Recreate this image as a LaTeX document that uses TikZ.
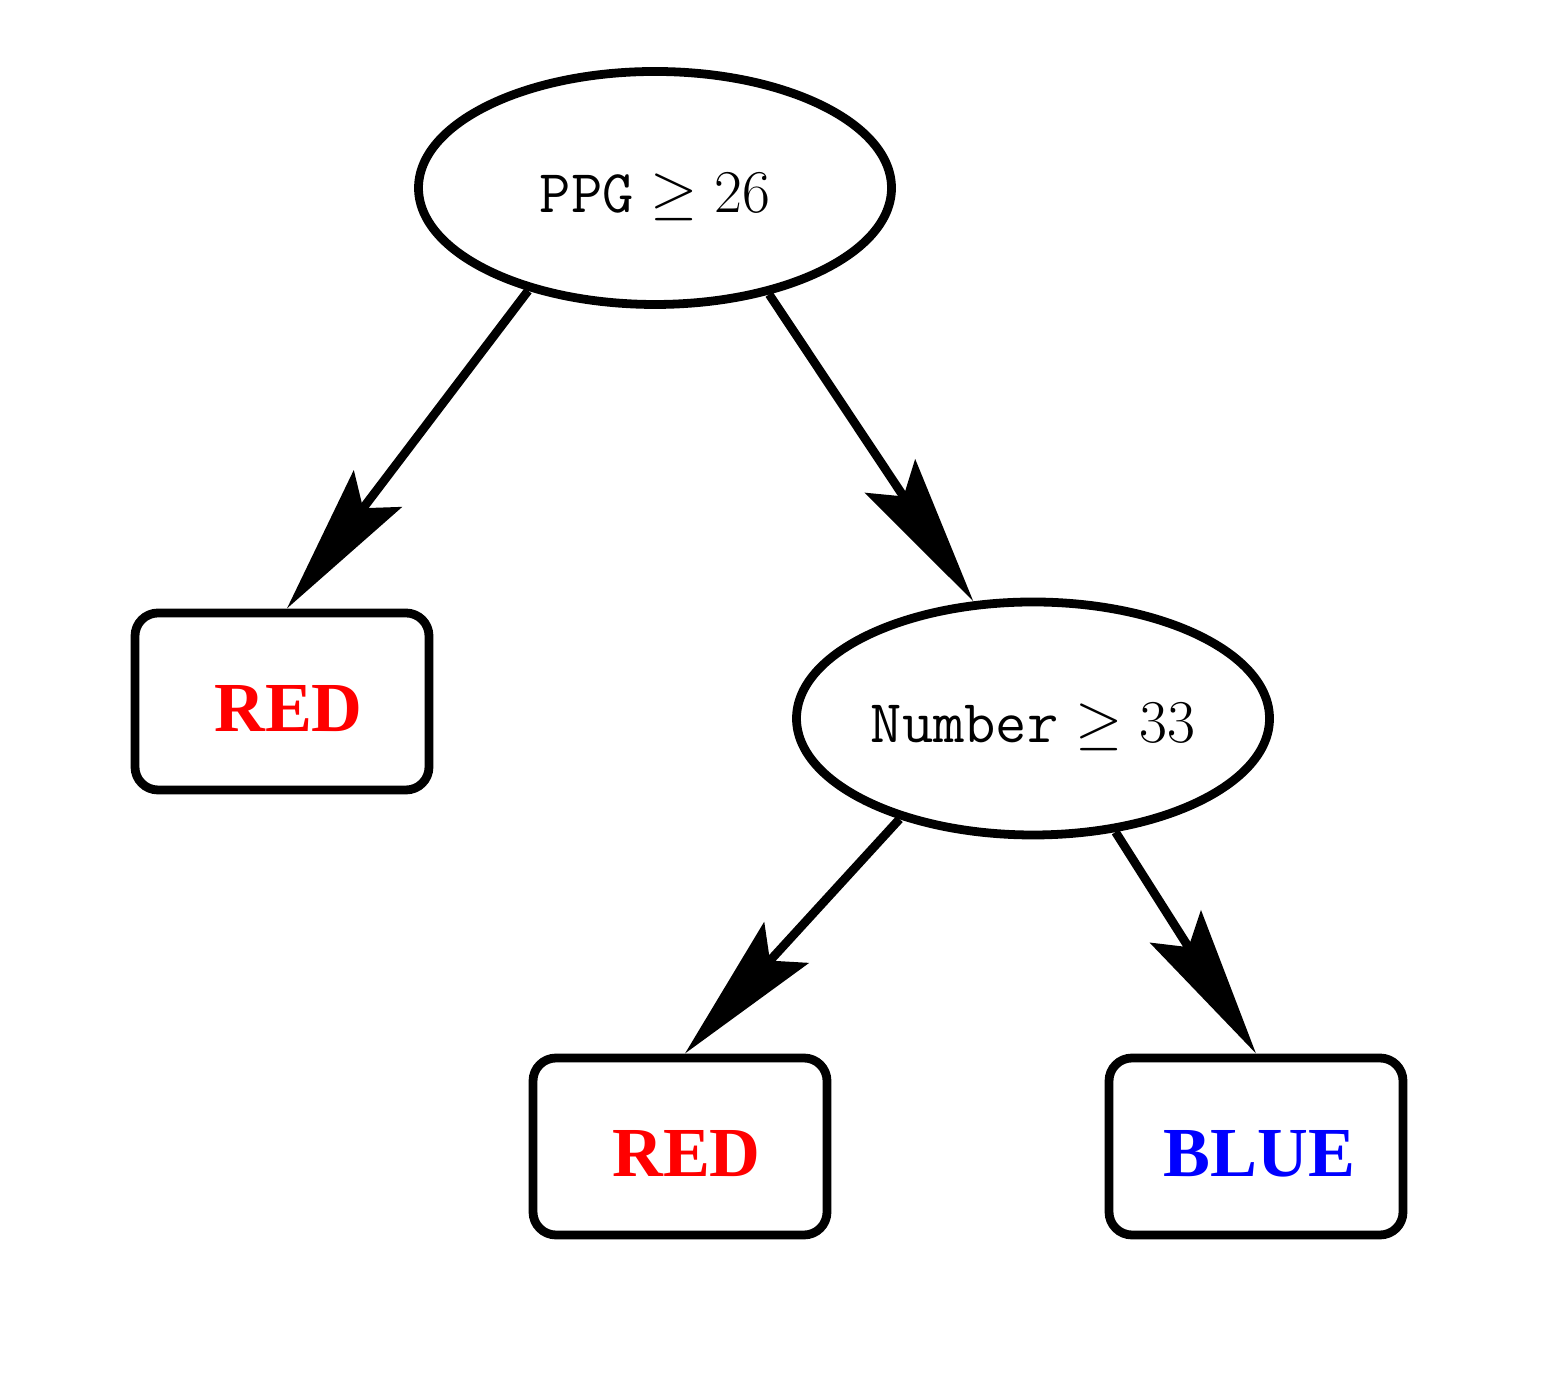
\documentclass[tikz,border=0pt]{standalone}
\usepackage{fontspec}
\newfontfamily\leaffont{Liberation Serif}
\usetikzlibrary{arrows.meta,
                shapes.geometric}

\begin{document}
\begin{tikzpicture}[line width=2.5pt,
        test/.style={ellipse, draw, inner sep=0pt, minimum width=4.73cm, minimum height=2.33cm,
                font=\fontsize{17.28}{21}\selectfont, text height=0.49cm, text depth=0cm},
        leaf/.style={rectangle, draw, rounded corners=0.23cm, inner sep=0pt, minimum width=2.94cm,
                minimum height=1.77cm, font=\leaffont\bfseries\fontsize{20}{24}\selectfont,
                text height=0.6cm, text depth=0cm},
        branch/.style={-{Stealth[length=15mm, width=6mm, inset=2.4mm]}}]
        \useasboundingbox (0,0) rectangle (15.54,13.75);
        \node (ppg) at (6.55,11.87) [test] {$\mathtt{PPG} \geq 26$};
        \node (num) at (10.33,6.565) [test] {$\mathtt{Number} \geq 33$};
        \node (redA) at (2.82,6.735) [leaf, text=red] {\hspace*{0.13cm}RED};
        \node (redB) at (6.80,2.285) [leaf, text=red] {\hspace*{0.13cm}RED};
        \node (blue) at (12.56,2.285) [leaf, text=blue] {\hspace*{0.07cm}BLUE};
        \draw [branch] (ppg.219) -- (redA.87);
        \draw [branch] (ppg.-43) -- (num.117);
        \draw [branch] (num.217) -- (redB.87);
        \draw [branch] (num.-54) -- (blue.north);
\end{tikzpicture}
\end{document}
